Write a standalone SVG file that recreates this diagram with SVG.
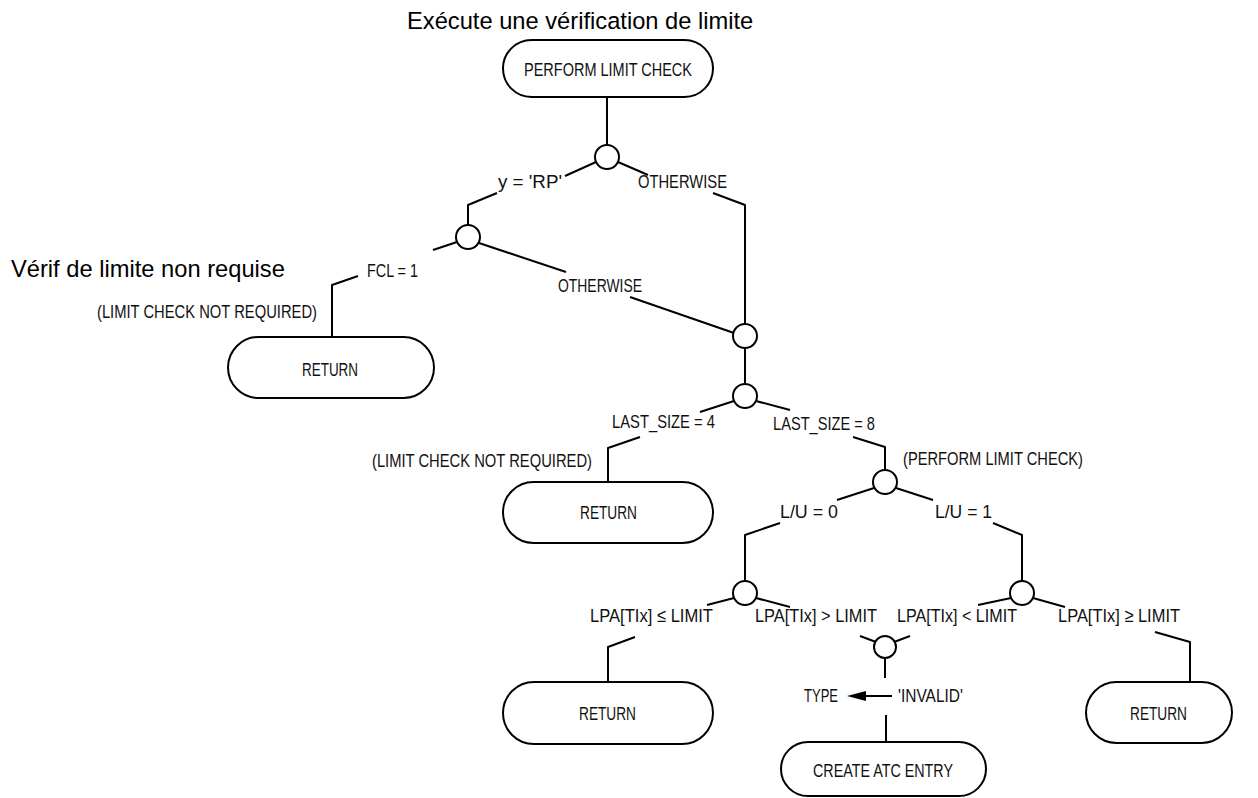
<svg xmlns="http://www.w3.org/2000/svg" width="1258" height="798" viewBox="0 0 1258 798">
<style>
.bg{fill:#ffffff}
.pill{fill:#ffffff;stroke:#000;stroke-width:2}
.dec{fill:#ffffff;stroke:#000;stroke-width:2}
.ln{fill:none;stroke:#000;stroke-width:2;stroke-linejoin:round}
.lbl{font-family:"Liberation Sans",Arial,sans-serif;font-size:19px;fill:#111}
.note{font-family:"Liberation Sans",Arial,sans-serif;font-size:23.7px;fill:#000}
</style>
<rect class="bg" x="0" y="0" width="1258" height="798"/>
<text class="note" x="407" y="29">Exécute une vérification de limite</text>
<text class="note" x="11" y="277">Vérif de limite non requise</text>

<g id="connectors">
<path class="ln" d="M607,97 V145"/>
<path class="ln" d="M596,162 L565,176"/>
<path class="ln" d="M497,193 L468,205 V225"/>
<path class="ln" d="M618,162 L648,175"/>
<path class="ln" d="M713,193 L745,205 V324"/>
<path class="ln" d="M457,242 L433,250"/>
<path class="ln" d="M358,276 L332,285 V337"/>
<path class="ln" d="M479,243 L566,272"/>
<path class="ln" d="M630,297 L734,333"/>
<path class="ln" d="M745,348 V384"/>
<path class="ln" d="M734,401 L700,412"/>
<path class="ln" d="M640,437 L608,448 V482"/>
<path class="ln" d="M756,401 L790,410"/>
<path class="ln" d="M853,437 L885,447 V470"/>
<path class="ln" d="M874,488 L837,500"/>
<path class="ln" d="M780,523 L745,535 V581"/>
<path class="ln" d="M896,488 L933,500"/>
<path class="ln" d="M993,523 L1022,535 V581"/>
<path class="ln" d="M734,598 L707,605"/>
<path class="ln" d="M635,637 L608,647 V682"/>
<path class="ln" d="M756,598 L790,607"/>
<path class="ln" d="M860,636 L876,642"/>
<path class="ln" d="M1011,598 L978,605"/>
<path class="ln" d="M910,636 L894,642"/>
<path class="ln" d="M1033,598 L1065,607"/>
<path class="ln" d="M1155,632 L1190,642 V682"/>
<path class="ln" d="M885,658 V678"/>
<path class="ln" d="M892,696 H862"/>
<polygon points="847,696 866,691 866,701" fill="#000"/>
<path class="ln" d="M886,715 V742"/>
</g>

<g id="start">
<rect class="pill" x="503" y="40" width="210" height="57" rx="28.5"/>
<text class="lbl" x="524" y="76" textLength="168" lengthAdjust="spacingAndGlyphs">PERFORM LIMIT CHECK</text>
</g>
<g id="d1"><circle class="dec" cx="607" cy="157" r="12"/></g>
<g id="lbl-rp"><text class="lbl" x="498" y="188" textLength="64" lengthAdjust="spacingAndGlyphs">y = 'RP'</text></g>
<g id="lbl-oth1"><text class="lbl" x="638" y="188" textLength="89" lengthAdjust="spacingAndGlyphs">OTHERWISE</text></g>
<g id="d2"><circle class="dec" cx="468" cy="237" r="12"/></g>
<g id="lbl-fcl"><text class="lbl" x="367" y="277" textLength="51" lengthAdjust="spacingAndGlyphs">FCL = 1</text></g>
<g id="lbl-oth2"><text class="lbl" x="558" y="292" textLength="84" lengthAdjust="spacingAndGlyphs">OTHERWISE</text></g>
<g id="note1"><text class="lbl" x="97" y="318" textLength="220" lengthAdjust="spacingAndGlyphs">(LIMIT CHECK NOT REQUIRED)</text></g>
<g id="return1">
<rect class="pill" x="228" y="337" width="206" height="61" rx="30.5"/>
<text class="lbl" x="302" y="376" textLength="56" lengthAdjust="spacingAndGlyphs">RETURN</text>
</g>
<g id="d3"><circle class="dec" cx="745" cy="336" r="12"/></g>
<g id="d4"><circle class="dec" cx="745" cy="396" r="12"/></g>
<g id="lbl-ls4"><text class="lbl" x="612" y="428" textLength="103" lengthAdjust="spacingAndGlyphs">LAST_SIZE = 4</text></g>
<g id="lbl-ls8"><text class="lbl" x="773" y="430" textLength="102" lengthAdjust="spacingAndGlyphs">LAST_SIZE = 8</text></g>
<g id="note2"><text class="lbl" x="372" y="467" textLength="220" lengthAdjust="spacingAndGlyphs">(LIMIT CHECK NOT REQUIRED)</text></g>
<g id="note3"><text class="lbl" x="903" y="465" textLength="180" lengthAdjust="spacingAndGlyphs">(PERFORM LIMIT CHECK)</text></g>
<g id="return2">
<rect class="pill" x="503" y="482" width="210" height="61" rx="30.5"/>
<text class="lbl" x="580" y="519" textLength="57" lengthAdjust="spacingAndGlyphs">RETURN</text>
</g>
<g id="d5"><circle class="dec" cx="885" cy="482" r="12"/></g>
<g id="lbl-lu0"><text class="lbl" x="780" y="518" textLength="58" lengthAdjust="spacingAndGlyphs">L/U = 0</text></g>
<g id="lbl-lu1"><text class="lbl" x="935" y="518" textLength="57" lengthAdjust="spacingAndGlyphs">L/U = 1</text></g>
<g id="d6"><circle class="dec" cx="745" cy="593" r="12"/></g>
<g id="d7"><circle class="dec" cx="1022" cy="593" r="12"/></g>
<g id="lbl-le"><text class="lbl" x="590" y="622" textLength="123" lengthAdjust="spacingAndGlyphs">LPA[TIx] ≤ LIMIT</text></g>
<g id="lbl-gt"><text class="lbl" x="755" y="622" textLength="122" lengthAdjust="spacingAndGlyphs">LPA[TIx] &gt; LIMIT</text></g>
<g id="lbl-lt"><text class="lbl" x="897" y="622" textLength="120" lengthAdjust="spacingAndGlyphs">LPA[TIx] &lt; LIMIT</text></g>
<g id="lbl-ge"><text class="lbl" x="1058" y="622" textLength="122" lengthAdjust="spacingAndGlyphs">LPA[TIx] ≥ LIMIT</text></g>
<g id="d8"><circle class="dec" cx="885" cy="647" r="11"/></g>
<g id="assign">
<text class="lbl" x="804" y="702" textLength="34" lengthAdjust="spacingAndGlyphs">TYPE</text>
<text class="lbl" x="898" y="702" textLength="65" lengthAdjust="spacingAndGlyphs">'INVALID'</text>
</g>
<g id="return3">
<rect class="pill" x="503" y="682" width="210" height="62" rx="31"/>
<text class="lbl" x="579" y="720" textLength="57" lengthAdjust="spacingAndGlyphs">RETURN</text>
</g>
<g id="return4">
<rect class="pill" x="1086" y="682" width="146" height="61" rx="30.5"/>
<text class="lbl" x="1130" y="720" textLength="57" lengthAdjust="spacingAndGlyphs">RETURN</text>
</g>
<g id="create">
<rect class="pill" x="781" y="742" width="205" height="54" rx="27"/>
<text class="lbl" x="813" y="777" textLength="140" lengthAdjust="spacingAndGlyphs">CREATE ATC ENTRY</text>
</g>
</svg>
